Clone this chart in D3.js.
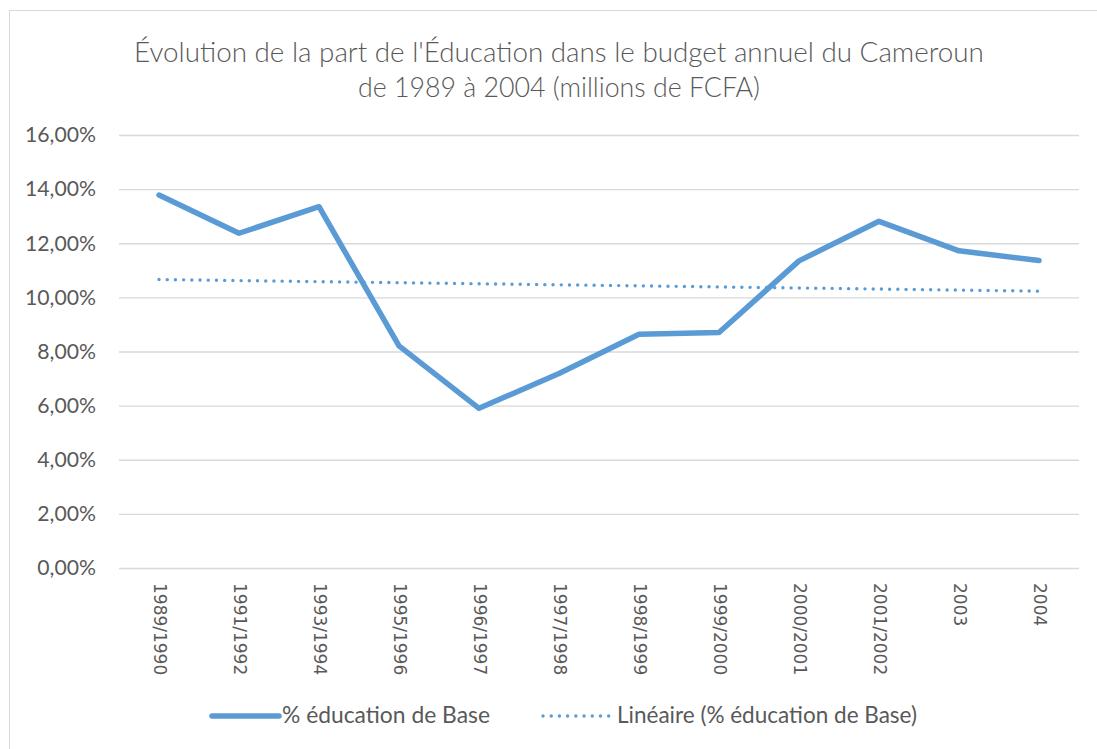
<!DOCTYPE html>
<html><head><meta charset="utf-8">
<script src="https://cdn.jsdelivr.net/npm/d3@7"></script>
<style>body{margin:0;background:#fff}svg{display:block}</style>
</head><body>
<svg id="c" width="1097" height="749"></svg>
<script>
const categories = ["1989/1990","1991/1992","1993/1994","1995/1996","1996/1997","1997/1998","1998/1999","1999/2000","2000/2001","2001/2002","2003","2004"];
const educationBase = [0.1378,0.1237,0.1335,0.0821,0.0590,0.0719,0.0864,0.0870,0.1135,0.1281,0.1172,0.1136];
const trendEnds = [0.1066,0.1023];
const yTicks = [0,0.02,0.04,0.06,0.08,0.10,0.12,0.14,0.16];
const titleLines = ["Évolution de la part de l'Éducation dans le budget annuel du Cameroun","de 1989 à 2004 (millions de FCFA)"];
const legendLabels = ["% éducation de Base","Linéaire (% éducation de Base)"];

const svg = d3.select("#c");
const txt = "#595959", blue = "#5B9BD5", grid = "#d9d9d9";
const font = "Lato, 'Open Sans', sans-serif";

function fit(sel, w){ sel.each(function(){ const fs=parseFloat(this.getAttribute("font-size")); const l=this.getComputedTextLength(); this.setAttribute("font-size", (fs*w/l).toFixed(2)); }); }

svg.append("rect").attr("x",9.5).attr("y",10.5).attr("width",1100).attr("height",760)
  .attr("fill","#fff").attr("stroke",grid).attr("stroke-width",1);

const x = d3.scalePoint().domain(categories).range([119,1079]).padding(0.5);
const y = d3.scaleLinear().domain([0,0.16]).range([568,135]);
const loc = d3.formatLocale({decimal:",",thousands:" ",grouping:[3],currency:["","€"],percent:"%"});
const fmt = loc.format(".2%");

// title
const tW = [850, 402];
titleLines.forEach((t,i)=>{
  svg.append("text").attr("x",559).attr("y",[62,97][i]).attr("text-anchor","middle")
    .attr("font-family",font).attr("font-weight",300).attr("font-size",24).attr("fill",txt).text(t).call(fit,tW[i]);
});

// grid + y axis
const ya = svg.append("g").attr("transform","translate(119,0)")
  .call(d3.axisLeft(y).tickValues(yTicks).tickFormat(fmt).tickSize(-960).tickPadding(23));
ya.select(".domain").remove();
ya.selectAll(".tick line").attr("stroke",grid).attr("stroke-width",1.3);
ya.selectAll(".tick text").attr("font-family",font).attr("font-size",18).attr("fill",txt);
{ const n = ya.select(".tick:last-of-type text").node(); const l=n.getComputedTextLength(); const fs=18*71/l; ya.selectAll(".tick text").attr("font-size",fs.toFixed(2)); }

// x axis labels
const xa = svg.append("g").attr("transform","translate(0,568)")
  .call(d3.axisBottom(x).tickSize(0).tickPadding(0));
xa.select(".domain").remove();
xa.selectAll(".tick text").attr("font-family","'DejaVu Sans', sans-serif").attr("font-size",17).attr("fill",txt)
  .attr("text-anchor","start").attr("dy",null).attr("y",0)
  .attr("transform","translate(0,15) rotate(90)").attr("dominant-baseline","central");

// trend line
const trendData = [[categories[0],trendEnds[0]],[categories[categories.length-1],trendEnds[1]]];
svg.append("path").datum(trendData).attr("fill","none").attr("stroke",blue).attr("stroke-width",3.4)
  .attr("stroke-linecap","round").attr("stroke-dasharray","0.01 8.2")
  .attr("d", d3.line().x(d=>x(d[0])).y(d=>y(d[1])));

// main line
svg.append("path").datum(educationBase).attr("fill","none").attr("stroke",blue).attr("stroke-width",5.5)
  .attr("stroke-linecap","round").attr("stroke-linejoin","round")
  .attr("d", d3.line().x((d,i)=>x(categories[i])).y(d=>y(d)));

// legend
const ly = 716;
svg.append("line").attr("x1",212).attr("x2",279).attr("y1",ly).attr("y2",ly).attr("stroke",blue).attr("stroke-width",5.5).attr("stroke-linecap","round");
svg.append("text").attr("x",282).attr("y",ly+7).attr("font-family",font).attr("font-size",20).attr("fill",txt).text(legendLabels[0]).call(fit,208);
svg.append("line").attr("x1",543).attr("x2",611).attr("y1",ly).attr("y2",ly).attr("stroke",blue).attr("stroke-width",3.4).attr("stroke-linecap","round").attr("stroke-dasharray","0.01 8.2");
svg.append("text").attr("x",617).attr("y",ly+7).attr("font-family",font).attr("font-size",20).attr("fill",txt).text(legendLabels[1]).call(fit,300);
</script>
</body></html>
